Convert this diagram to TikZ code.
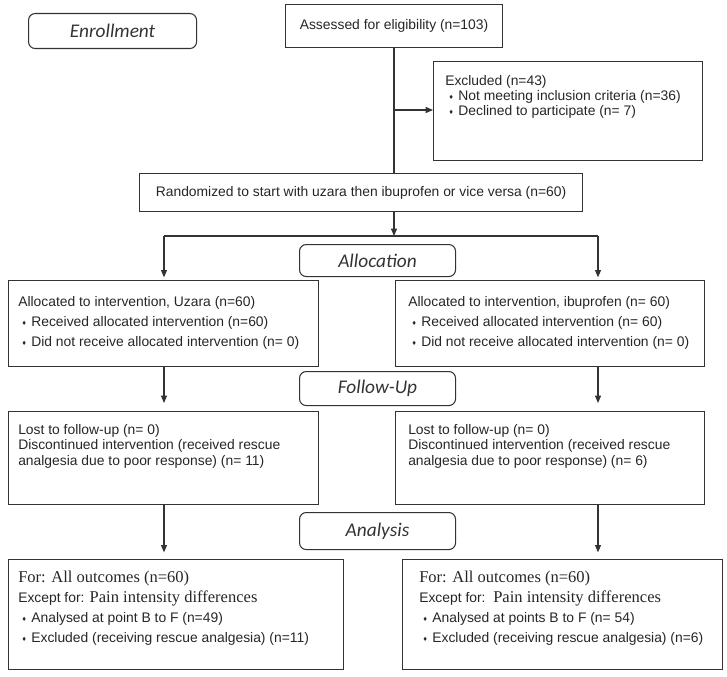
\documentclass[tikz,border=0pt]{standalone}
\usepackage{fontspec}
\setmainfont{Liberation Sans}
\newfontfamily\headfont{Carlito}
\newfontfamily\tnrfont{Liberation Serif}
\usetikzlibrary{arrows.meta}

% small diamond bullet
\newcommand{\dmd}{\hspace*{3pt}{\fontsize{5.5pt}{5.5pt}\selectfont\raisebox{0.8pt}{♦}}\hspace{4pt}}

\tikzset{
  wh/.style 2 args={minimum width=#1, minimum height=#2, anchor=north west},
  box/.style={draw=black!80, line width=0.8pt, inner sep=0pt,
    font=\fontsize{10.4pt}{12pt}\selectfont, text=black!85},
  head/.style={draw=black!80, line width=0.8pt, rounded corners=5pt, inner sep=0pt,
    font=\headfont\itshape\fontsize{14.5pt}{16pt}\selectfont, text=black!80},
  txt/.style={anchor=north west, inner sep=0pt, align=left, text=black!85},
  conn/.style={draw=black!80, line width=0.8pt},
  arr/.style={conn, -{Triangle[length=5.5pt,width=4.5pt]}},
}

\begin{document}
\begin{tikzpicture}[x=0.75pt,y=0.75pt,yscale=-1,xscale=1]
\useasboundingbox (0,0) rectangle (727,677);

%Shape: Rounded Rect (stage labels)
\node[head, wh={126pt}{26.25pt}] (enrol) at (28,13) {Enrollment};
\node[head, wh={117pt}{24pt}] (alloc) at (299,244) {Allocation};
\node[head, wh={117pt}{25.5pt}] (follow) at (299,371) {Follow-Up};
\node[head, wh={117pt}{27.75pt}] (anal) at (299,512) {Analysis};

%Shape: Rectangle
\node[box, wh={162.75pt}{32.25pt}] (assess) at (285,4) {Assessed for eligibility (n=103)};
\node[box, wh={201.75pt}{74.25pt}] (excl) at (433,61) {};
\node[box, wh={332.25pt}{28.5pt}] (rand) at (139,173) {Randomized to start with uzara then ibuprofen or vice versa (n=60)};
\node[box, wh={232.5pt}{64.5pt}] (allocL) at (8,280) {};
\node[box, wh={231.75pt}{64.5pt}] (allocR) at (395,280) {};
\node[box, wh={232.5pt}{69.75pt}] (fuL) at (8,411) {};
\node[box, wh={231.75pt}{69.75pt}] (fuR) at (395,411) {};
\node[box, wh={251.25pt}{82.5pt}] (anL) at (8,559) {};
\node[box, wh={240pt}{82.5pt}] (anR) at (402,559) {};

% branch points
\coordinate (split) at (394,110);
\coordinate (brM) at (394,236);
\coordinate (brL) at (164,236);
\coordinate (brR) at (598,236);

%Straight Lines
\draw[conn] (assess.south -| split) -- (rand.north -| split);
\draw[arr] (split) -- (excl.west |- split);
\draw[arr] (rand.south -| brM) -- (brM);
\draw[conn] (brL) -- (brR);
\draw[arr, shorten >=2pt] (brL) -- (allocL.north -| brL);
\draw[arr, shorten >=2pt] (brR) -- (allocR.north -| brR);
\draw[arr, shorten >=6pt] (allocL.south -| brL) -- (fuL.north -| brL);
\draw[arr, shorten >=6pt] (allocR.south -| brR) -- (fuR.north -| brR);
\draw[arr, shorten >=5pt] (fuL.south -| brL) -- (anL.north -| brL);
\draw[arr, shorten >=5pt] (fuR.south -| brR) -- (anR.north -| brR);

% Text Node
\node[txt, font=\fontsize{10.4pt}{11.25pt}\selectfont] (exclTxt) at (445,75)
  {Excluded (n=43)\\\dmd Not meeting inclusion criteria (n=36)\\\dmd Declined to participate (n= 7)};
% Text Node
\node[txt, font=\fontsize{10.4pt}{15pt}\selectfont] (allocLTxt) at (18,296)
  {Allocated to intervention, Uzara (n=60)\\\dmd Received allocated intervention (n=60)\\\dmd Did not receive allocated intervention (n= 0)};
% Text Node
\node[txt, font=\fontsize{10.4pt}{15pt}\selectfont] (allocRTxt) at (408,296)
  {Allocated to intervention, ibuprofen (n= 60)\\\dmd Received allocated intervention (n= 60)\\\dmd Did not receive allocated intervention (n= 0)};
% Text Node
\node[txt, font=\fontsize{10.4pt}{11.6pt}\selectfont] (fuLTxt) at (18,424)
  {Lost to follow-up (n= 0)\\Discontinued intervention (received rescue\\analgesia due to poor response) (n= 11)};
% Text Node
\node[txt, font=\fontsize{10.4pt}{11.6pt}\selectfont] (fuRTxt) at (408,424)
  {Lost to follow-up (n= 0)\\Discontinued intervention (received rescue\\analgesia due to poor response) (n= 6)};
% Text Node
\node[txt, font=\fontsize{10.4pt}{15pt}\selectfont] (anLTxt) at (18,571)
  {{\tnrfont\fontsize{12.4pt}{15pt}\selectfont For: All outcomes (n=60)}\\
   Except for: {\tnrfont\fontsize{12.4pt}{15pt}\selectfont Pain intensity differences}\\
   \dmd Analysed at point B to F (n=49)\\\dmd Excluded (receiving rescue analgesia) (n=11)};
% Text Node
\node[txt, font=\fontsize{10.4pt}{15pt}\selectfont] (anRTxt) at (419,571)
  {{\tnrfont\fontsize{12.4pt}{15pt}\selectfont For: All outcomes (n=60)}\\
   Except for:\ \ {\tnrfont\fontsize{12.4pt}{15pt}\selectfont Pain intensity differences}\\
   \dmd Analysed at points B to F (n= 54)\\\dmd Excluded (receiving rescue analgesia) (n=6)};

\end{tikzpicture}
\end{document}
